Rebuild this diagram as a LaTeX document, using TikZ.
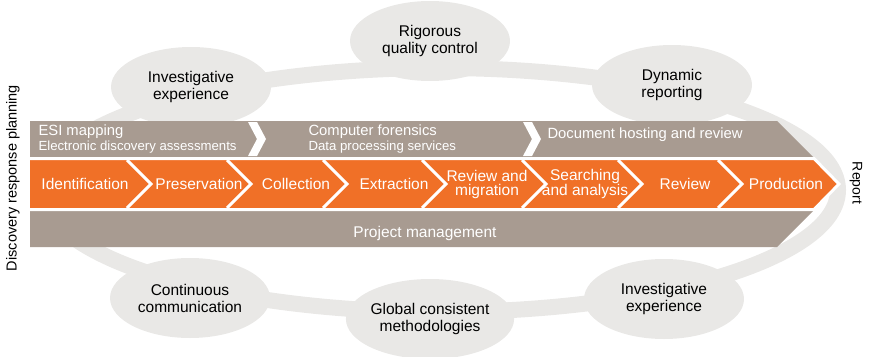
\documentclass[tikz,border=0pt]{standalone}
\usepackage{fontspec}
\setmainfont{Liberation Sans}
\usetikzlibrary{shapes.geometric}

\definecolor{stepOrange}{HTML}{F07027}
\definecolor{barGray}{HTML}{A89B91}
\definecolor{ringGray}{HTML}{E9E8E6}

\begin{document}
\begin{tikzpicture}[x=1pt, y=-1pt,
    bubble/.style={ellipse, fill=ringGray, minimum width=160, minimum height=80, inner sep=0pt,
                   align=center, font=\fontsize{15.5}{17}\selectfont},
    steplabel/.style={white, align=center, font=\fontsize{15.5}{14}\selectfont},
    toplabel/.style={white, anchor=west, font=\fontsize{14.8}{16}\selectfont},
    subtoplabel/.style={white, anchor=west, font=\fontsize{13.2}{14}\selectfont}]
    \useasboundingbox (0,0) rectangle (869,356);

    % Ring behind everything
    \draw[ringGray, line width=16] (440,190) ellipse [x radius=398, y radius=122];

    % Bubbles on the ring
    \node[bubble] (invtop) at (191,87) {Investigative\\experience};
    \node[bubble] (rigor) at (430,41) {Rigorous\\quality control};
    \node[bubble] (dyn) at (672,85) {Dynamic\\reporting};
    \node[bubble] (contin) at (190,298) {Continuous\\communication};
    \node[bubble] (global) at (430,319) {Global consistent\\methodologies};
    \node[bubble] (invbot) at (664,299) {Investigative\\experience};

    % Big gray arrow (top and bottom bars)
    \fill[barGray] (30,121) -- (777,121) -- (840,184) -- (777,247) -- (30,247) -- cycle;

    % White chevrons in the top bar
    \foreach \x in {248, 523} {
        \fill[white] (\x,122) -- (\x+9,122) -- (\x+18,139) -- (\x+9,156) -- (\x,156) -- (\x+9,139) -- cycle;
    }

    % Orange process row
    \fill[stepOrange] (30,158.5) -- (814,158.5) -- (839,184) -- (814,209.5) -- (30,209.5) -- cycle;
    \draw[white, line width=3] (30,158.5) -- (814,158.5) -- (839,184) -- (814,209.5) -- (30,209.5);
    \foreach \x in {127, 227, 323, 422, 522, 618, 718} {
        \draw[white, line width=3] (\x,160) -- (\x+24,184) -- (\x,208);
    }

    % Top bar texts
    \node[toplabel] (esi) at (35,132) {ESI mapping};
    \node[subtoplabel] (eda) at (35,147) {Electronic discovery assessments};
    \node[toplabel] (forens) at (305,132) {Computer forensics};
    \node[subtoplabel] (dps) at (305,147) {Data processing services};
    \node[toplabel] (dochost) at (544,135) {Document hosting and review};

    % Step labels
    \node[steplabel] (ident) at (85,184) {Identification};
    \node[steplabel] (preserv) at (199,184) {Preservation};
    \node[steplabel] (collect) at (296,184) {Collection};
    \node[steplabel] (extract) at (394,184) {Extraction};
    \node[steplabel] (revmig) at (487,184) {Review and\\migration};
    \node[steplabel] (search) at (585,184) {Searching\\and analysis};
    \node[steplabel] (review) at (685,184) {Review};
    \node[steplabel] (product) at (786,184) {Production};

    % Bottom bar text
    \node[white, font=\fontsize{15.5}{18}\selectfont] (projman) at (425,233) {Project management};

    % Side labels
    \node[rotate=90, font=\fontsize{14.5}{17}\selectfont] (plan) at (13,178) {Discovery response planning};
    \node[rotate=-90, font=\fontsize{14}{17}\selectfont] (report) at (856,183) {Report};
\end{tikzpicture}
\end{document}
